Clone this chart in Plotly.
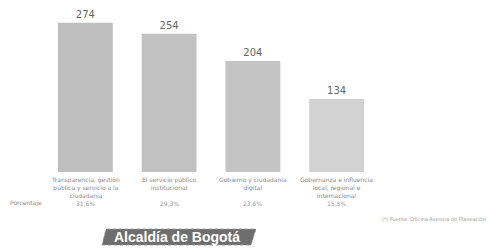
import plotly.graph_objects as go

categories = [
    "Transparencia, gestión<br>pública y servicio a la<br>ciudadanía",
    "El servicio público<br>institucional",
    "Gobierno y ciudadanía<br>digital",
    "Gobernanza e influencia<br>local, regional e<br>internacional",
]
values = [274, 254, 204, 134]
percentages = ["31,6%", "29,3%", "23,6%", "15,5%"]
bar_colors = ["#bfbfbf", "#c2c2c2", "#c4c4c4", "#d2d2d2"]

W, H = 490, 248

def py(p):
    return 1 - p / H

fig = go.Figure()
fig.add_trace(go.Bar(
    x=list(range(len(categories))), y=values,
    marker=dict(color=bar_colors, line=dict(width=0)),
    text=[str(v) for v in values], textposition="outside",
    textfont=dict(size=10, color="#666666", family="DejaVu Sans"),
    cliponaxis=False,
))

ann = []
for i, (c, p) in enumerate(zip(categories, percentages)):
    ann.append(dict(x=i, y=py(174), xref="x", yref="paper", text=c, showarrow=False,
                    yanchor="top", font=dict(size=6, color="#8a8a8a", family="DejaVu Sans"),
                    align="center"))
    ann.append(dict(x=i, y=py(203), xref="x", yref="paper", text=p, showarrow=False,
                    yanchor="middle", font=dict(size=6, color="#9a9a9a", family="DejaVu Sans")))
ann.append(dict(x=8 / W, y=py(203), xref="paper", yref="paper", text="Porcentaje", showarrow=False,
                xanchor="left", yanchor="middle", font=dict(size=6, color="#8a8a8a", family="DejaVu Sans")))
ann.append(dict(x=488 / W, y=py(219), xref="paper", yref="paper",
                text="(*) Fuente: Oficina Asesora de Planeación", showarrow=False,
                xanchor="right", yanchor="middle", font=dict(size=5, color="#9a9a9a", family="DejaVu Sans")))
ann.append(dict(x=177 / W, y=py(237), xref="paper", yref="paper", text="<b>Alcaldía de Bogotá</b>",
                showarrow=False, xanchor="center", yanchor="middle",
                font=dict(size=14, color="#ffffff", family="Liberation Sans")))

shapes = [dict(type="path", xref="paper", yref="paper",
               path=f"M {102/W} {py(245)} L {251/W} {py(245)} L {256/W} {py(229)} L {106/W} {py(229)} Z",
               fillcolor="#6e6e6e", line=dict(color="#9a9a9a", width=1, dash="dot"), layer="below")]

fig.update_layout(
    width=W, height=H, margin=dict(l=0, r=0, t=0, b=0),
    paper_bgcolor="white", plot_bgcolor="white",
    showlegend=False, bargap=0.345,
    xaxis=dict(domain=[43.5 / W, 378.5 / W], range=[-0.5, 3.5], showticklabels=False,
               showgrid=False, zeroline=False, showline=False, ticks=""),
    yaxis=dict(domain=[py(172), 1], range=[0, 316], showticklabels=False,
               showgrid=False, zeroline=False, showline=False, ticks=""),
    annotations=ann, shapes=shapes,
)

fig.write_html("out.html", config={"displayModeBar": False},
               post_script="document.body.style.margin='0';document.body.style.overflow='hidden';")
